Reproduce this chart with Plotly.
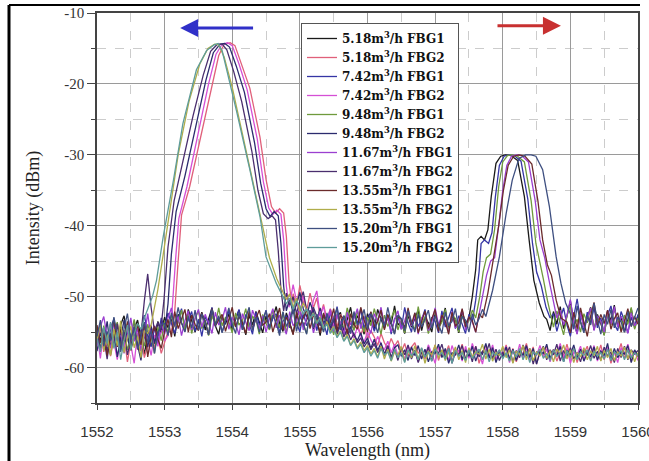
import plotly.graph_objects as go

flows = ["5.18", "7.42", "9.48", "11.67", "13.55", "15.20"]
colors_fbg1 = ["#1a1a1a", "#3535a5", "#6f9a3c", "#9b3fd0", "#6b2b2b", "#3e4f80"]
colors_fbg2 = ["#e0607a", "#d54fd5", "#2b2b6e", "#4a2e6e", "#b0ad4a", "#5e9c9a"]
y_ticks = [-60, -50, -40, -30, -20, -10]

# ---------- FBG1: right peak (shifts to longer wavelength) ----------
fbg1_peak_x = [
    [1557.50, 1557.55, 1557.60, 1557.63, 1557.68, 1557.73, 1557.78, 1557.83, 1557.90, 1557.97, 1558.04, 1558.12, 1558.22, 1558.32, 1558.39, 1558.46, 1558.54, 1558.61],
    [1557.55, 1557.60, 1557.65, 1557.68, 1557.73, 1557.79, 1557.84, 1557.89, 1557.95, 1558.02, 1558.09, 1558.17, 1558.27, 1558.37, 1558.44, 1558.50, 1558.57, 1558.64, 1558.70],
    [1557.60, 1557.66, 1557.71, 1557.76, 1557.82, 1557.88, 1557.94, 1558.00, 1558.07, 1558.14, 1558.22, 1558.32, 1558.42, 1558.49, 1558.55, 1558.60, 1558.66, 1558.72],
    [1557.64, 1557.70, 1557.76, 1557.82, 1557.88, 1557.94, 1558.00, 1558.06, 1558.13, 1558.20, 1558.28, 1558.38, 1558.48, 1558.55, 1558.62, 1558.68, 1558.74, 1558.80],
    [1557.70, 1557.78, 1557.86, 1557.94, 1558.01, 1558.08, 1558.16, 1558.24, 1558.33, 1558.43, 1558.52, 1558.59, 1558.66, 1558.72, 1558.79, 1558.86],
    [1557.75, 1557.85, 1557.95, 1558.05, 1558.14, 1558.24, 1558.34, 1558.42, 1558.49, 1558.59, 1558.69, 1558.79, 1558.86, 1558.93],
]
fbg1_peak_y = [
    [-53, -50, -46.2, -42, -41.5, -42, -40.6, -35.9, -31.2, -30.2, -30.0, -30.1, -30.8, -35.9, -42, -47.7, -50.9, -52.8],
    [-53.5, -50.5, -46.5, -42.5, -42, -42.5, -41, -36, -31.5, -30.2, -30.0, -30.1, -30.9, -36.2, -42.5, -46.5, -48.5, -51.5, -53],
    [-53, -50, -46.5, -44.5, -44, -40.5, -34.5, -31, -30.1, -30.0, -30.2, -31, -36.5, -42.5, -45, -47.5, -50.5, -53],
    [-53, -50, -47, -45, -44.5, -40, -35, -31.5, -30.2, -30.0, -30.1, -31, -36.5, -42, -44.5, -47.5, -50.5, -53],
    [-53, -49.5, -45, -40, -35, -31.5, -30.2, -30.0, -30.2, -31.3, -36.5, -42, -45.5, -47, -50.5, -53],
    [-52.8, -49.1, -44.4, -38.3, -33.6, -30.5, -30.0, -30.0, -30.2, -32.1, -37.3, -44.4, -48.1, -50.9],
]
# noise read from 1552.00 nm upward, 0.05 nm apart
fbg1_left_noise = [
    [-54.3, -56.1, -55.2, -57.4, -53.8, -55.9, -56.8, -54.0, -52.7, -55.5,
     -57.2, -54.6, -53.3, -56.0, -58.1, -55.3, -54.1, -56.7, -53.5, -54.8,
     -52.9, -54.4, -53.1, -55.6, -52.5, -53.7, -54.9, -51.8, -53.4, -55.0,
     -53.6, -52.2, -54.7, -53.0, -51.6, -54.1, -55.3, -52.8, -53.9, -52.4,
     -54.8, -53.2, -51.9, -53.7, -55.4, -52.6, -54.0, -52.1, -53.5, -55.1,
     -52.7, -54.3, -53.0, -51.4, -53.8, -54.9, -52.3, -53.6, -55.2, -52.9,
     -51.7, -54.2, -53.3, -52.0, -54.6, -53.1, -55.5, -52.5, -53.9, -51.9,
     -54.4, -53.0, -52.2, -55.0, -53.4, -51.5, -54.1, -52.7, -53.8, -55.3,
     -52.4, -53.6, -54.7, -51.8, -53.2, -54.5, -52.8, -53.9, -51.3, -54.0,
     -53.5, -55.2, -52.6, -54.3, -53.1, -51.9, -54.8, -52.9, -53.7, -55.0,
     -52.3, -54.1, -53.4, -51.6, -54.6, -52.8, -53.2, -55.1, -52.0, -53.8,
     -54.4],
    [-56.0, -53.7, -55.8, -57.9, -54.5, -53.1, -56.4, -55.0, -57.6, -54.2,
     -55.7, -53.4, -56.9, -54.8, -52.6, -55.3, -57.1, -54.4, -55.9, -53.0,
     -54.6, -52.3, -53.8, -55.2, -53.0, -51.7, -54.5, -53.3, -52.1, -54.9,
     -53.2, -55.6, -52.8, -53.9, -51.5, -54.2, -52.9, -55.0, -53.6, -52.0,
     -54.3, -53.1, -51.8, -54.7, -52.5, -53.8, -55.3, -52.2, -54.0, -53.4,
     -51.9, -54.6, -53.0, -52.4, -55.1, -53.5, -52.7, -54.4, -51.6, -53.7,
     -55.0, -52.3, -54.1, -53.2, -51.8, -54.8, -52.9, -53.6, -55.4, -52.1,
     -53.9, -51.4, -54.2, -52.7, -53.5, -55.2, -52.4, -53.8, -51.7, -54.5,
     -53.0, -52.2, -54.9, -53.4, -51.9, -54.0, -52.6, -55.3, -53.1, -52.8,
     -54.6, -51.5, -53.7, -55.0, -52.3, -54.2, -53.3, -51.8, -54.7, -52.9,
     -53.5, -55.1, -52.0, -54.3, -53.0, -51.6, -54.5, -52.7, -53.9, -55.2,
     -52.5, -54.0],
    [-55.4, -57.3, -54.1, -56.6, -58.2, -55.0, -53.6, -56.9, -54.7, -57.5,
     -55.8, -53.2, -56.1, -54.9, -57.0, -53.9, -55.5, -58.0, -54.3, -56.2,
     -53.4, -55.0, -52.6, -54.3, -53.7, -51.9, -54.8, -52.4, -55.2, -53.1,
     -52.0, -54.5, -53.3, -55.5, -52.7, -53.9, -51.6, -54.1, -52.9, -53.6,
     -55.1, -52.3, -54.0, -53.4, -51.7, -54.6, -52.8, -53.2, -55.3, -52.5,
     -53.8, -54.7, -51.9, -53.0, -54.4, -52.2, -55.0, -53.5, -51.5, -54.2,
     -52.6, -53.9, -55.2, -52.1, -54.3, -53.1, -51.8, -54.9, -52.7, -53.4,
     -55.4, -52.4, -53.7, -54.5, -51.6, -53.3, -54.8, -52.0, -53.6, -55.0,
     -52.9, -54.1, -51.7, -53.5, -55.3, -52.6, -54.2, -53.0, -51.9, -54.7,
     -53.2, -55.1, -52.3, -53.8, -54.6, -51.4, -53.9, -52.8, -55.2, -53.3,
     -52.1, -54.4, -53.6, -51.8, -54.9, -52.5, -53.1, -55.0, -52.7, -54.2,
     -53.4, -51.9, -54.6],
    [-56.9, -54.2, -52.8, -55.6, -57.3, -53.5, -56.0, -54.7, -58.0, -55.2,
     -53.0, -56.3, -54.4, -57.7, -55.5, -52.4, -55.9, -54.1, -56.6, -53.8,
     -55.3, -53.0, -51.6, -54.2, -52.8, -55.5, -53.4, -52.0, -54.7, -53.1,
     -51.8, -54.3, -52.5, -53.7, -55.2, -52.2, -54.0, -53.3, -51.5, -54.6,
     -52.9, -53.8, -55.4, -52.4, -53.6, -54.8, -51.9, -53.2, -54.5, -52.7,
     -55.0, -53.1, -51.7, -54.4, -52.6, -53.9, -55.3, -52.1, -54.1, -53.5,
     -51.6, -54.7, -53.0, -52.3, -55.1, -53.6, -52.0, -54.2, -53.3, -51.8,
     -54.9, -52.5, -53.7, -55.4, -52.2, -54.0, -53.1, -51.7, -54.5, -52.8,
     -53.9, -55.2, -52.4, -53.5, -51.5, -54.3, -52.9, -55.0, -53.2, -52.0,
     -54.6, -53.4, -51.9, -54.1, -52.7, -55.3, -53.0, -52.3, -54.8, -53.7,
     -51.6, -54.0, -52.6, -53.3, -55.1, -52.1, -54.4, -53.5, -51.8, -54.7,
     -52.9, -53.6, -55.0],
    [-54.0, -56.5, -55.1, -58.3, -55.8, -53.2, -57.1, -54.6, -56.3, -53.5,
     -57.6, -55.4, -54.0, -56.8, -53.7, -58.5, -55.6, -54.2, -56.0, -57.3,
     -54.9, -53.2, -55.7, -52.1, -54.5, -53.0, -51.8, -55.0, -52.6, -53.9,
     -54.8, -52.3, -53.5, -55.4, -51.7, -54.1, -53.3, -52.5, -54.9, -53.0,
     -51.5, -54.3, -52.8, -53.7, -55.2, -52.0, -54.6, -53.1, -51.9, -54.0,
     -53.6, -52.4, -55.0, -53.3, -51.6, -54.7, -52.9, -53.8, -55.4, -52.2,
     -54.1, -53.0, -51.8, -54.5, -52.6, -53.4, -55.1, -52.3, -54.0, -53.6,
     -51.7, -54.8, -52.7, -53.1, -55.3, -52.4, -53.9, -54.6, -51.5, -53.3,
     -55.0, -52.1, -54.2, -53.5, -51.9, -54.7, -52.5, -53.8, -55.2, -52.8,
     -53.2, -54.4, -51.6, -53.9, -52.3, -55.1, -53.4, -52.0, -54.5, -53.0,
     -51.8, -54.9, -52.6, -53.5, -55.3, -52.2, -54.1, -53.7, -51.7, -54.3,
     -52.9, -53.4, -55.0, -52.4],
    [-55.6, -53.3, -57.0, -54.9, -56.2, -52.9, -55.4, -57.8, -54.5, -52.4,
     -56.1, -54.3, -57.4, -55.7, -53.6, -56.5, -54.8, -58.0, -55.1, -53.9,
     -53.8, -55.5, -52.3, -54.1, -51.5, -53.7, -55.0, -52.8, -54.4, -51.9,
     -54.7, -52.4, -53.6, -55.4, -51.8, -54.0, -52.7, -55.1, -53.3, -51.6,
     -53.9, -55.2, -52.2, -54.6, -53.0, -51.5, -54.8, -52.9, -55.0, -53.4,
     -52.0, -54.5, -52.6, -53.7, -55.5, -52.1, -54.2, -53.2, -51.7, -54.9,
     -52.8, -53.8, -55.3, -51.9, -54.4, -52.5, -53.5, -55.0, -52.3, -54.1,
     -53.0, -51.6, -54.7, -52.7, -53.9, -55.2, -52.1, -54.0, -53.4, -51.8,
     -54.6, -52.4, -53.3, -55.1, -52.9, -54.2, -51.5, -53.7, -55.3, -52.6,
     -53.1, -54.8, -52.0, -53.6, -55.0, -52.5, -54.3, -53.2, -51.9, -54.5,
     -52.7, -53.9, -55.2, -52.2, -54.1, -53.5, -51.7, -54.7, -52.8, -53.3,
     -55.0, -52.4, -54.0, -53.1, -51.8],
]
# noise read back from 1560.00 nm, 0.05 nm apart
fbg1_right_noise = [
    [-53.2, -54.8, -52.1, -53.9, -51.4, -54.5, -52.7, -50.6, -53.6, -55.2,
     -52.3, -54.1, -53.0, -51.5, -54.7, -52.5, -53.8, -55.4, -52.0, -53.4,
     -51.2, -54.2, -52.8, -55.0, -53.3, -51.7, -54.4, -52.6],
    [-52.4, -54.9, -53.1, -51.6, -54.0, -55.6, -52.8, -50.3, -53.5, -54.7,
     -52.2, -53.8, -51.5, -54.4, -53.0, -55.3, -52.6, -51.3, -53.9, -54.8,
     -52.1, -53.4, -55.1, -52.9, -54.2, -52.5],
    [-54.3, -52.0, -53.6, -55.4, -52.7, -51.2, -54.1, -53.2, -55.0, -52.4,
     -53.7, -51.6, -54.5, -52.9, -53.5, -55.5, -52.3, -54.0, -51.8, -53.3,
     -54.8, -52.6, -53.9, -51.5, -54.6, -53.0],
    [-51.9, -54.0, -52.6, -50.4, -53.7, -55.3, -52.2, -54.4, -53.1, -51.6,
     -54.8, -52.7, -53.5, -55.0, -52.0, -53.9, -51.4, -54.3, -52.8, -53.6,
     -55.2, -52.3, -54.1, -53.4],
    [-53.6, -55.1, -52.2, -54.5, -51.6, -53.4, -55.6, -52.7, -50.8, -54.0,
     -52.5, -53.8, -51.9, -54.6, -53.1, -52.3, -55.0, -53.5, -51.7, -54.2,
     -52.8, -53.9],
    [-52.4, -54.6, -51.3, -53.7, -55.1, -52.7, -54.0, -50.9, -53.3, -55.3,
     -52.5, -53.9, -51.8, -54.4, -52.9, -53.6, -55.0, -52.1, -54.2, -53.0,
     -51.6],
]

# ---------- FBG2: left peak (shifts to shorter wavelength) ----------
fbg2_peak_x = [
    [1553.10, 1553.15, 1553.20, 1553.25, 1553.37, 1553.52, 1553.69, 1553.80, 1553.88, 1553.97, 1554.04, 1554.14, 1554.26, 1554.41, 1554.50, 1554.58, 1554.64, 1554.70, 1554.76, 1554.80, 1554.84, 1554.88],
    [1553.06, 1553.11, 1553.16, 1553.21, 1553.33, 1553.48, 1553.65, 1553.76, 1553.85, 1553.93, 1554.00, 1554.10, 1554.22, 1554.37, 1554.46, 1554.54, 1554.60, 1554.66, 1554.72, 1554.76, 1554.80, 1554.84],
    [1553.00, 1553.05, 1553.10, 1553.17, 1553.30, 1553.45, 1553.61, 1553.72, 1553.82, 1553.89, 1553.96, 1554.06, 1554.18, 1554.33, 1554.42, 1554.50, 1554.56, 1554.62, 1554.68, 1554.72, 1554.76, 1554.80],
    [1552.94, 1552.99, 1553.05, 1553.14, 1553.27, 1553.42, 1553.57, 1553.68, 1553.78, 1553.85, 1553.92, 1554.02, 1554.14, 1554.29, 1554.38, 1554.46, 1554.53, 1554.59, 1554.64, 1554.68, 1554.72, 1554.76],
    [1552.80, 1552.90, 1552.98, 1553.08, 1553.20, 1553.36, 1553.52, 1553.64, 1553.74, 1553.80, 1553.88, 1554.00, 1554.14, 1554.30, 1554.44, 1554.55, 1554.66, 1554.78],
    [1552.70, 1552.82, 1552.88, 1552.98, 1553.13, 1553.27, 1553.47, 1553.62, 1553.73, 1553.79, 1553.85, 1553.91, 1554.06, 1554.26, 1554.41, 1554.50, 1554.65, 1554.75],
]
fbg2_peak_y = [
    [-55, -52, -45, -38.5, -34.5, -28, -20.4, -16, -14.4, -14.2, -14.6, -17.2, -20.6, -27.5, -33.5, -37.3, -38.2, -37.6, -38.2, -41.5, -48, -51],
    [-55, -52, -45, -39, -34.5, -27.5, -20, -15.8, -14.4, -14.2, -14.6, -17.2, -20.8, -27.8, -33.8, -37.5, -38.4, -37.8, -38.4, -42, -48.5, -51.5],
    [-55, -51, -44, -38, -33, -26.5, -19.5, -15.6, -14.4, -14.3, -14.8, -17.5, -21.2, -28.3, -34, -37.6, -38.7, -38.0, -38.6, -42.5, -48.5, -52],
    [-55, -50.5, -43, -36.5, -31, -24.5, -18.8, -15.4, -14.4, -14.4, -15.2, -18.2, -22.5, -29.5, -35, -38.3, -39, -38.6, -39.2, -43.5, -49, -52],
    [-54, -49, -44, -37.5, -30, -22.5, -17.2, -15.0, -14.4, -14.5, -16.2, -20.5, -26.5, -33.5, -39.5, -44.5, -47.5, -50],
    [-53, -50, -47.7, -41.5, -33.6, -25.6, -18, -15.3, -14.5, -14.3, -15.3, -17.6, -23.7, -32.1, -38.7, -44.4, -48.1, -50],
]
fbg2_left_noise = [
    [-56.6, -54.3, -57.8, -55.2, -58.4, -56.1, -53.7, -57.0, -55.5, -59.2,
     -56.3, -54.6, -57.5, -55.0, -58.6, -56.9, -54.1, -57.3, -55.7, -58.0,
     -56.4, -54.9],
    [-55.3, -58.7, -54.8, -57.1, -53.9, -56.5, -58.9, -55.6, -57.4, -54.2,
     -56.8, -59.4, -55.1, -57.7, -54.5, -56.0, -58.3, -55.4, -57.0, -54.7,
     -56.2, -55.5],
    [-57.7, -55.1, -56.4, -53.5, -57.2, -54.8, -58.5, -56.0, -53.3, -55.9,
     -57.5, -54.6, -56.7, -59.0, -55.3, -57.1, -54.2, -56.5, -55.0, -54.4],
    [-54.7, -57.3, -55.6, -58.8, -55.2, -56.9, -53.8, -57.6, -55.0, -58.2,
     -56.1, -54.3, -57.0, -55.4, -50.6, -46.8, -51.5, -54.9, -53.6],
    [-56.2, -53.9, -57.6, -55.3, -58.3, -54.6, -56.9, -53.4, -57.9, -55.8,
     -54.2, -57.2, -55.6, -58.6, -54.8, -55.2],
    [-55.9, -57.8, -54.3, -56.6, -53.6, -57.3, -55.0, -58.9, -56.2, -54.0,
     -57.5, -55.3, -53.8, -54.6],
]
fbg2_right_noise = [
    [-49.6, -51.3, -48.4, -50.7, -52.0, -49.5, -51.6, -50.2, -52.8, -51.1,
     -53.3, -51.7, -52.9, -54.2, -52.5, -53.8, -55.0, -53.2, -54.6, -53.9,
     -55.4, -54.1, -56.0, -54.8, -55.7, -56.9, -55.2, -56.5, -57.3, -55.9,
     -57.0, -56.2, -57.8, -56.6, -58.4, -57.1, -56.5, -58.0, -57.4, -58.8,
     -57.2, -58.5, -56.8, -59.0, -57.6, -58.2, -56.9, -59.3, -57.5, -58.1,
     -56.7, -58.9, -57.4, -58.6, -57.0, -59.4, -57.8, -56.9, -58.3, -57.2,
     -59.0, -57.6, -58.4, -56.8, -58.7, -57.3, -59.2, -57.9, -58.0, -56.6,
     -58.5, -57.1, -59.5, -57.7, -58.2, -56.9, -58.8, -57.4, -59.1, -57.8,
     -58.3, -56.7, -58.6, -57.2, -59.3, -57.6, -58.0, -57.0, -59.0, -57.5,
     -58.4, -56.8, -58.9, -57.3, -59.4, -57.9, -58.1, -56.6, -58.7, -57.4,
     -59.2, -57.7, -58.5],
    [-51.0, -48.3, -50.6, -52.3, -49.9, -51.8, -53.0, -50.5, -49.2, -52.6,
     -51.4, -53.5, -52.0, -54.1, -52.8, -53.7, -55.2, -53.4, -54.5, -55.8,
     -54.3, -55.5, -56.4, -55.0, -56.1, -57.0, -55.6, -56.8, -57.5, -56.3,
     -57.9, -56.7, -58.3, -57.2, -58.9, -56.9, -58.1, -57.6, -59.2, -57.3,
     -58.6, -56.8, -58.0, -59.4, -57.1, -58.5, -57.7, -59.0, -56.9, -58.3,
     -57.5, -59.1, -57.0, -58.7, -56.6, -58.2, -57.8, -59.5, -57.3, -58.4,
     -56.8, -58.9, -57.6, -58.1, -57.0, -59.3, -57.5, -58.6, -56.7, -58.8,
     -57.2, -59.0, -57.9, -58.3, -56.9, -58.5, -57.4, -59.2, -57.7, -58.0,
     -56.6, -58.7, -57.3, -59.4, -57.8, -58.2, -57.0, -58.9, -57.6, -58.4,
     -56.9, -59.1, -57.5, -58.6, -57.1, -58.8, -57.8, -59.3, -57.2, -58.1,
     -56.7, -58.5, -57.6, -59.0],
    [-50.2, -52.4, -51.1, -49.4, -51.7, -52.9, -50.8, -52.2, -53.5, -51.6,
     -53.9, -52.7, -54.4, -53.1, -55.0, -53.8, -54.6, -55.7, -54.2, -55.4,
     -56.2, -55.1, -56.7, -55.8, -57.3, -56.0, -57.6, -56.5, -58.1, -57.0,
     -58.6, -57.2, -56.8, -58.4, -57.5, -59.0, -57.1, -58.3, -56.9, -58.8,
     -57.4, -59.2, -57.8, -58.0, -56.7, -58.6, -57.3, -59.4, -57.9, -58.2,
     -56.8, -58.9, -57.5, -58.4, -57.0, -59.1, -57.7, -58.1, -56.6, -58.7,
     -57.2, -59.3, -57.8, -58.5, -57.1, -58.9, -57.4, -59.0, -57.6, -58.3,
     -56.9, -58.6, -57.3, -59.5, -57.8, -58.0, -56.7, -58.8, -57.5, -58.4,
     -57.0, -59.2, -57.6, -58.2, -56.8, -58.7, -57.4, -59.1, -57.9, -58.5,
     -57.1, -58.9, -57.7, -58.3, -56.6, -59.0, -57.3, -58.6, -57.8, -58.1,
     -56.9, -59.3, -57.5, -58.4],
    [-49.5, -51.2, -50.0, -52.4, -50.6, -49.3, -51.9, -53.0, -51.5, -52.7,
     -54.1, -52.6, -53.4, -54.8, -53.2, -55.3, -54.0, -55.7, -54.6, -56.1,
     -55.2, -56.5, -55.8, -57.1, -56.3, -57.5, -56.6, -57.9, -57.0, -58.3,
     -56.9, -58.6, -57.4, -59.0, -57.2, -58.2, -56.8, -58.8, -57.6, -59.3,
     -57.9, -58.4, -57.1, -59.1, -57.5, -58.0, -56.7, -58.7, -57.3, -59.4,
     -57.8, -58.2, -56.9, -58.9, -57.5, -59.2, -57.0, -58.5, -57.7, -58.1,
     -56.6, -58.8, -57.4, -59.0, -57.9, -58.3, -57.1, -59.3, -57.6, -58.6,
     -56.8, -58.4, -57.3, -59.5, -57.8, -58.0, -57.0, -58.9, -57.5, -58.2,
     -56.7, -59.1, -57.6, -58.5, -57.2, -58.8, -57.9, -59.2, -57.4, -58.3,
     -56.9, -58.7, -57.7, -59.0, -57.1, -58.4, -57.8, -59.3, -57.3, -58.6,
     -57.0, -58.9, -57.5, -58.1, -57.6],
    [-50.4, -49.6, -51.5, -50.2, -52.1, -50.9, -51.8, -53.0, -52.3, -53.7,
     -52.9, -54.3, -53.5, -55.0, -54.2, -55.6, -54.8, -56.2, -55.3, -56.8,
     -55.9, -57.2, -56.4, -57.6, -56.9, -58.1, -57.3, -58.5, -57.0, -58.8,
     -57.4, -59.1, -57.8, -58.3, -57.0, -59.2, -57.6, -58.6, -56.9, -58.9,
     -57.3, -59.4, -57.7, -58.2, -56.8, -58.7, -57.5, -59.0, -57.9, -58.4,
     -57.1, -58.9, -57.6, -59.3, -57.2, -58.5, -57.8, -58.1, -56.7, -58.8,
     -57.4, -59.1, -57.9, -58.3, -57.0, -58.6, -57.5, -59.4, -57.7, -58.2,
     -56.9, -58.9, -57.3, -59.0, -57.8, -58.4, -57.1, -58.7, -57.6, -59.2,
     -57.4, -58.1, -56.8, -58.8, -57.5, -59.3, -57.9, -58.5, -57.2, -58.9,
     -57.7, -58.3, -57.0, -59.1, -57.6, -58.6, -57.3, -59.0, -57.8, -58.4,
     -57.1, -58.8, -57.5, -59.2, -57.9],
    [-51.0, -50.2, -51.8, -50.6, -51.3, -52.5, -51.7, -53.1, -52.4, -53.8,
     -53.0, -54.5, -53.9, -55.2, -54.4, -55.8, -55.0, -56.3, -55.6, -56.9,
     -56.2, -57.4, -56.7, -57.9, -57.2, -58.4, -57.6, -58.7, -57.3, -58.2,
     -57.8, -59.0, -57.4, -58.6, -57.9, -59.3, -57.5, -58.3, -57.7, -58.9,
     -57.2, -58.5, -57.8, -59.1, -57.4, -58.2, -57.9, -58.8, -57.3, -59.4,
     -57.6, -58.4, -57.9, -59.0, -57.5, -58.7, -58.0, -57.4, -58.9, -57.6,
     -59.2, -57.8, -58.3, -57.5, -58.8, -57.9, -59.1, -57.6, -58.5, -57.3,
     -58.9, -57.7, -59.3, -57.8, -58.2, -57.4, -58.7, -58.0, -59.0, -57.5,
     -58.4, -57.9, -59.2, -57.6, -58.6, -57.3, -58.9, -57.8, -58.3, -57.5,
     -59.1, -57.7, -58.4, -57.9, -58.8, -57.4, -59.0, -57.8, -58.2, -57.6,
     -58.9, -57.5, -58.6, -57.9, -58.3],
]

X_START, X_END, STEP = 1552.0, 1560.0, 0.05


def assemble(left, px, py, right):
    xl = [round(X_START + STEP * k, 3) for k in range(len(left))]
    n = len(right)
    xr = [round(X_END - STEP * (n - 1 - k), 3) for k in range(n)]
    lx, ly = zip(*[(a, b) for a, b in zip(xl, left) if a < px[0]])
    rx, ry = zip(*[(a, b) for a, b in zip(xr, right) if a > px[-1]])
    return list(lx) + px + list(rx), list(ly) + py + list(ry)


fig = go.Figure()
for i, flow in enumerate(flows):
    x1, y1 = assemble(fbg1_left_noise[i], fbg1_peak_x[i], fbg1_peak_y[i], fbg1_right_noise[i])
    fig.add_trace(go.Scatter(x=x1, y=y1, mode="lines",
                             name=f"<b>{flow}m<sup>3</sup>/h FBG1</b>",
                             line=dict(color=colors_fbg1[i], width=1.3)))
    x2, y2 = assemble(fbg2_left_noise[i], fbg2_peak_x[i], fbg2_peak_y[i], fbg2_right_noise[i])
    fig.add_trace(go.Scatter(x=x2, y=y2, mode="lines",
                             name=f"<b>{flow}m<sup>3</sup>/h FBG2</b>",
                             line=dict(color=colors_fbg2[i], width=1.3)))

L, R, T, B = 97, 11, 13, 58
W, H = 649, 461
pw, ph = W - L - R, H - T - B


def px2paper(px, py):
    return (px - L) / pw, (H - B - py) / ph


fx0, fy0 = px2paper(9, 5)
fx1, fy1 = px2paper(640, 461)

fig.update_layout(
    width=W, height=H,
    margin=dict(l=L, r=R, t=T, b=B, autoexpand=False),
    paper_bgcolor="white", plot_bgcolor="white",
    showlegend=True,
    legend=dict(x=(301 - L) / pw, y=(H - B - 23) / ph, xanchor="left", yanchor="top",
                bgcolor="white", bordercolor="#555", borderwidth=1,
                font=dict(family="DejaVu Serif", size=12, color="#111"),
                tracegroupgap=0, itemwidth=30),
    xaxis=dict(range=[1552, 1560], tick0=1552, dtick=1, automargin=False,
               showline=True, mirror=True, linecolor="#444", linewidth=1.5,
               ticks="outside", ticklen=5, tickcolor="#444",
               ticklabelstandoff=9, ticklabeloverflow="allow",
               showgrid=True, gridcolor="#9a9a9a", gridwidth=1, zeroline=False,
               minor=dict(dtick=0.5, showgrid=True, gridcolor="#cccccc", griddash="dash",
                          ticks="outside", ticklen=3, tickcolor="#444"),
               tickfont=dict(family="Liberation Sans", size=15, color="#333"),
               title=dict(text="Wavelength (nm)", standoff=13,
                          font=dict(family="Liberation Serif", size=18, color="#222"))),
    yaxis=dict(range=[-65, -10], tickmode="array", tickvals=y_ticks, automargin=False,
               ticktext=[str(v) for v in y_ticks],
               showline=True, mirror=True, linecolor="#444", linewidth=1.5,
               ticks="outside", ticklen=8, tickcolor="#444",
               showgrid=True, gridcolor="#9a9a9a", gridwidth=1, zeroline=False,
               minor=dict(dtick=5, tick0=-10, showgrid=True, gridcolor="#cccccc", griddash="dash",
                          ticks="outside", ticklen=4, tickcolor="#444"),
               tickfont=dict(family="Liberation Serif", size=15, color="#333"),
               title=dict(text="Intensity (dBm)", standoff=20,
                          font=dict(family="Liberation Serif", size=18, color="#222"))),
    annotations=[
        dict(x=1553.23, y=-12.1, ax=1554.33, ay=-12.1, xref="x", yref="y", axref="x", ayref="y",
             showarrow=True, arrowhead=2, arrowsize=1.2, arrowwidth=3, arrowcolor="#3030c8", text=""),
        dict(x=1558.86, y=-11.8, ax=1557.90, ay=-11.8, xref="x", yref="y", axref="x", ayref="y",
             showarrow=True, arrowhead=2, arrowsize=1.2, arrowwidth=3, arrowcolor="#c83030", text=""),
    ],
    shapes=[
        dict(type="line", xref="paper", yref="paper", x0=fx0, x1=fx0, y0=fy0, y1=fy1,
             line=dict(color="black", width=3)),
        dict(type="line", xref="paper", yref="paper", x0=fx0, x1=fx1, y0=fy0, y1=fy0,
             line=dict(color="black", width=2)),
    ],
)

fig.write_html("out.html")
